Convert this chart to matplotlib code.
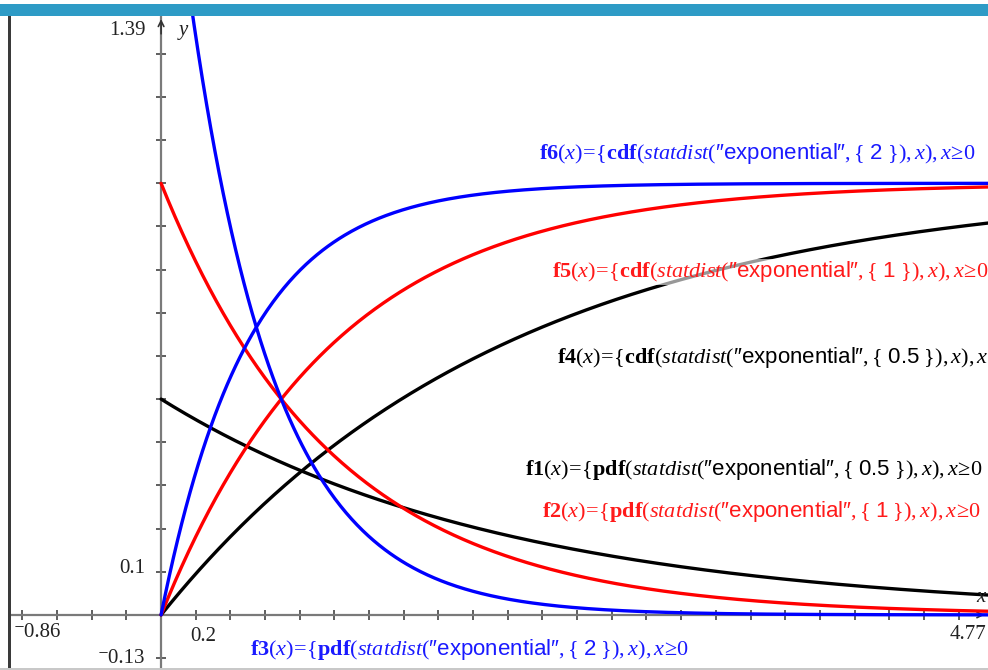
import numpy as np
import matplotlib
matplotlib.use("Agg")
import matplotlib.pyplot as plt
from matplotlib.patches import Rectangle

plt.rcParams['mathtext.fontset'] = 'custom'
plt.rcParams['mathtext.rm'] = 'Liberation Serif'
plt.rcParams['mathtext.it'] = 'Liberation Serif:italic'
plt.rcParams['mathtext.bf'] = 'Liberation Serif:bold'
plt.rcParams['mathtext.sf'] = 'Liberation Sans'

# window settings
x_min, x_max = -0.86, 4.77
y_min, y_max = -0.13, 1.39
x_ticks = np.arange(-0.8, 4.7, 0.2)
y_ticks = np.arange(-0.1, 1.35, 0.1)

# exponential rates used by the six functions
rates = [0.5, 1, 2]
rate_labels = ['0.5', '1', '2']
colors = ['black', '#ff0000', '#0000ff']
label_colors = ['black', '#ff1a1a', '#1a1aff']
pdf_names = ['f1', 'f2', 'f3']
cdf_names = ['f4', 'f5', 'f6']

# label anchor points (figure pixels: left, vertical centre)
pdf_label_pos = [(525, 470), (542, 511), (250, 649)]
cdf_label_pos = [(557, 358), (552, 272), (539, 153)]

W, H = 988, 670
fig = plt.figure(figsize=(W / 100, H / 100), dpi=100)
fig.patch.set_facecolor('white')

# axes placed so the window maps onto the screen area
ax_left, ax_right = 12, 988
ax_top, ax_bottom = 15, 671
ax = fig.add_axes([ax_left / W, 1 - ax_bottom / H,
                   (ax_right - ax_left) / W, (ax_bottom - ax_top) / H])
ax.set_xlim(x_min, x_max)
ax.set_ylim(y_min, y_max)
ax.patch.set_alpha(0)

for side in ['top', 'right']:
    ax.spines[side].set_visible(False)
ax.spines['left'].set_position(('data', 0))
ax.spines['bottom'].set_position(('data', 0))
for side in ['left', 'bottom']:
    ax.spines[side].set_color('#7a7a7a')
    ax.spines[side].set_linewidth(1.6)
ax.set_xticks(x_ticks)
ax.set_yticks(y_ticks)
ax.tick_params(direction='inout', length=7, width=1.1, color='#333333',
               labelbottom=False, labelleft=False)

# axis arrows
ax.annotate('', xy=(0, y_max - 0.003), xytext=(0, y_max - 0.05),
            arrowprops=dict(arrowstyle='->', color='#333333', lw=1.2))
ax.annotate('', xy=(x_max - 0.005, 0), xytext=(x_max - 0.15, 0),
            arrowprops=dict(arrowstyle='->', color='#333333', lw=1.2))

# curves
x = np.linspace(0, x_max, 600)
for lam, col in zip(rates, colors):
    ax.plot(x, lam * np.exp(-lam * x), color=col, lw=2.4, zorder=3,
            solid_capstyle='round')
    ax.plot(x, 1 - np.exp(-lam * x), color=col, lw=2.4, zorder=3,
            solid_capstyle='round')

# window / tick value labels
serif = ['Liberation Serif', 'DejaVu Serif']
num_font = dict(family=serif, fontsize=15, color='#222222')
ax.text(-0.09, 1.355, '1.39', ha='right', va='center', **num_font)
ax.text(-0.09, 0.108, '0.1', ha='right', va='center', **num_font)
ax.text(-0.09, -0.10, '\u207b0.13', ha='right', va='center', **num_font)
ax.text(-0.85, -0.04, '\u207b0.86', ha='left', va='center', **num_font)
ax.text(0.245, -0.05, '0.2', ha='center', va='center', **num_font)
ax.text(4.76, -0.045, '4.77', ha='right', va='center', **num_font)
ax.text(0.1, 1.355, 'y', ha='left', va='center', style='italic',
        family=serif, fontsize=15, color='#222222')
ax.text(4.70, 0.04, 'x', ha='left', va='center', style='italic',
        family=serif, fontsize=15, color='#222222')

QUOTE = '\u2033'


def func_label(name, kind, rate):
    return (r'$\mathbf{%s}(x)\!=\!\{\mathbf{%s}(\mathit{statdist}'
            r'(\mathsf{%sexponential%s},\{\ \mathsf{%s}\ \}),x),x\!\geq\! 0$'
            % (name, kind, QUOTE, QUOTE, rate))


for i in range(3):
    for names, kind, pos in [(pdf_names, 'pdf', pdf_label_pos),
                             (cdf_names, 'cdf', cdf_label_pos)]:
        px, py = pos[i]
        fig.text(px / W, 1 - py / H, func_label(names[i], kind, rate_labels[i]),
                 ha='left', va='center', fontsize=16, color=label_colors[i],
                 zorder=5,
                 bbox=dict(facecolor='white', alpha=0.6, edgecolor='none',
                           pad=0.5))

# screen frame: title bar, left edge, bottom edge
fig.patches.append(Rectangle((0, 1 - 16 / H), 1, 12 / H, transform=fig.transFigure,
                             facecolor='#2e9bc6', edgecolor='none', zorder=10))
fig.patches.append(Rectangle((8 / W, 0), 3 / W, 1 - 16 / H,
                             transform=fig.transFigure,
                             facecolor='#3a3a3a', edgecolor='none', zorder=10))
fig.patches.append(Rectangle((0, 0), 1, 2 / H, transform=fig.transFigure,
                             facecolor='#c8c8c8', edgecolor='none', zorder=10))

fig.savefig('out.png', dpi=100)
